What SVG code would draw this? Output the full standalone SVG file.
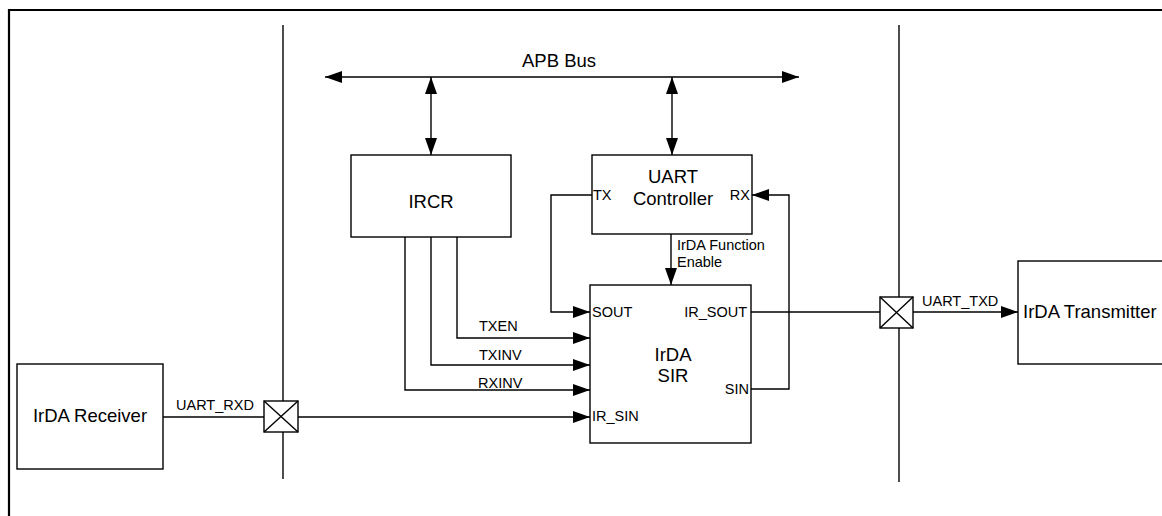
<svg xmlns="http://www.w3.org/2000/svg" width="1162" height="516" viewBox="0 0 1162 516">
<style>
.box{fill:#fff;stroke:#000;stroke-width:1.4}
.ln{fill:none;stroke:#000;stroke-width:1.4}
.big{font-family:"Liberation Sans",Arial,sans-serif;font-size:18.5px;fill:#000}
.sm{font-family:"Liberation Sans",Arial,sans-serif;font-size:14.5px;fill:#000}
.mid{text-anchor:middle}
.end{text-anchor:end}
</style>
<defs>
<marker id="ah" markerWidth="17" markerHeight="12" refX="17" refY="6" orient="auto-start-reverse" markerUnits="userSpaceOnUse">
<path d="M0,0 L17,6 L0,12 z" fill="#000"/>
</marker>
</defs>
<rect width="1162" height="516" fill="#fff"/>
<path d="M9,530 V10 H1170" fill="none" stroke="#000" stroke-width="2.2"/>
<g id="buses">
<line class="ln" x1="283" y1="25" x2="283" y2="479"/>
<line class="ln" x1="899" y1="25" x2="899" y2="482"/>
</g>
<g id="connectors">
<line class="ln" x1="325" y1="77" x2="799" y2="77" marker-start="url(#ah)" marker-end="url(#ah)"/>
<line class="ln" x1="431" y1="77" x2="431" y2="155" marker-start="url(#ah)" marker-end="url(#ah)"/>
<line class="ln" x1="672" y1="77" x2="672" y2="155" marker-start="url(#ah)" marker-end="url(#ah)"/>
<path class="ln" d="M592,195 H551 V312 H590" marker-end="url(#ah)"/>
<path class="ln" d="M751,389 H789 V195 H752" marker-end="url(#ah)"/>
<path class="ln" d="M671,234 V285" marker-end="url(#ah)"/>
<path class="ln" d="M457,237 V338 H590" marker-end="url(#ah)"/>
<path class="ln" d="M431,237 V365 H590" marker-end="url(#ah)"/>
<path class="ln" d="M405,237 V390 H590" marker-end="url(#ah)"/>
<path class="ln" d="M298,417 H590" marker-end="url(#ah)"/>
<path class="ln" d="M163,417 H264"/>
<path class="ln" d="M751,312 H880"/>
<path class="ln" d="M913,312 H1018" marker-end="url(#ah)"/>
<text class="big mid" x="559" y="67">APB Bus</text>
<text class="sm" x="677" y="250">IrDA Function</text>
<text class="sm" x="677" y="267">Enable</text>
<text class="sm" x="479" y="331">TXEN</text>
<text class="sm" x="479" y="360">TXINV</text>
<text class="sm" x="478" y="388">RXINV</text>
<text class="sm" x="176" y="410">UART_RXD</text>
<text class="sm" x="922" y="306">UART_TXD</text>
</g>
<g id="pad-rx">
<rect class="box" x="264" y="401" width="34" height="31"/>
<path class="ln" d="M264,401 L298,432 M298,401 L264,432"/>
</g>
<g id="pad-tx">
<rect class="box" x="880" y="297" width="33" height="31"/>
<path class="ln" d="M880,297 L913,328 M913,297 L880,328"/>
</g>
<g id="ircr">
<rect class="box" x="351" y="155" width="160" height="82"/>
<text class="big mid" x="431" y="208">IRCR</text>
</g>
<g id="uart">
<rect class="box" x="592" y="155" width="160" height="79"/>
<text class="big mid" x="673" y="183">UART</text>
<text class="big mid" x="673" y="205">Controller</text>
<text class="sm" x="593" y="200">TX</text>
<text class="sm end" x="750" y="200">RX</text>
</g>
<g id="sir">
<rect class="box" x="590" y="285" width="161" height="158"/>
<text class="big mid" x="673" y="361">IrDA</text>
<text class="big mid" x="673" y="382">SIR</text>
<text class="sm" x="592" y="317">SOUT</text>
<text class="sm end" x="747" y="317">IR_SOUT</text>
<text class="sm end" x="749" y="394">SIN</text>
<text class="sm" x="592" y="421">IR_SIN</text>
</g>
<g id="receiver">
<rect class="box" x="17" y="364" width="146" height="105"/>
<text class="big mid" x="90" y="422">IrDA Receiver</text>
</g>
<g id="transmitter">
<rect class="box" x="1018" y="261" width="200" height="103"/>
<text class="big" x="1023" y="318">IrDA Transmitter</text>
</g>
</svg>
